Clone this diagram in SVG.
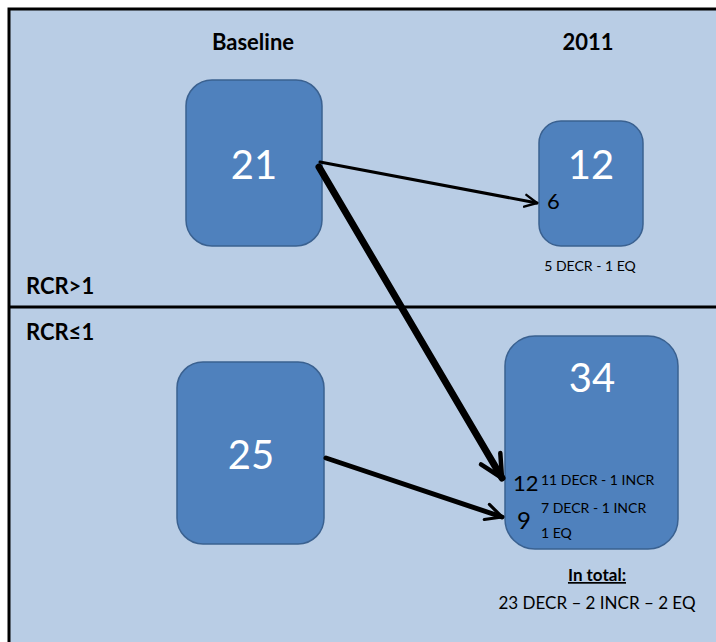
<svg xmlns="http://www.w3.org/2000/svg" width="716" height="642" viewBox="0 0 716 642">
<defs>
<style>
.box{fill:#4F81BD;stroke:#3A6190;stroke-width:1.5}
.big{font-family:Lato,"Open Sans","Liberation Sans",sans-serif;fill:#fff;font-size:40px;text-anchor:middle}
.hd{font-family:Lato,"Open Sans","Liberation Sans",sans-serif;font-weight:bold;font-size:22px;fill:#000}
.sm{font-family:Lato,"Open Sans","Liberation Sans",sans-serif;font-size:14px;fill:#000}
.tot{font-family:Lato,"Open Sans","Liberation Sans",sans-serif;font-size:17px;fill:#000;text-anchor:middle}
.num{font-family:Lato,"Open Sans","Liberation Sans",sans-serif;font-size:22px;fill:#000}
.conn{stroke:#000;fill:none;stroke-linecap:round}
</style>
<marker id="ah" viewBox="0 0 10 10" refX="9" refY="5" markerWidth="5" markerHeight="5" orient="auto" markerUnits="strokeWidth">
<polyline points="1,1 9,5 1,9" fill="none" stroke="#000" stroke-width="1.6" stroke-linecap="round" stroke-linejoin="round"/>
</marker>
<marker id="ah2" viewBox="0 0 10 10" refX="9" refY="5" markerWidth="4" markerHeight="4" orient="auto" markerUnits="strokeWidth">
<polyline points="1,1 9,5 1,9" fill="none" stroke="#000" stroke-width="1.6" stroke-linecap="round" stroke-linejoin="round"/>
</marker>
</defs>
<rect x="0" y="0" width="716" height="642" fill="#fff"/>
<rect x="9" y="9" width="720" height="650" fill="#B9CDE5" stroke="#000" stroke-width="3"/>
<line x1="9" y1="307" x2="716" y2="307" stroke="#000" stroke-width="3"/>
<text class="hd" x="253" y="50" text-anchor="middle">Baseline</text>
<text class="hd" x="588" y="50" text-anchor="middle">2011</text>
<text class="hd" x="26" y="294">RCR&gt;1</text>
<text class="hd" x="26" y="340">RCR≤1</text>
<g id="n21">
<rect class="box" x="186" y="80" width="136" height="166" rx="26"/>
<text class="big" x="254" y="179">21</text>
</g>
<g id="n12">
<rect class="box" x="539" y="121" width="104" height="125" rx="22"/>
<text class="big" x="591" y="179">12</text>
<text class="num" x="547" y="209">6</text>
<text class="sm" x="590" y="271" text-anchor="middle">5 DECR - 1 EQ</text>
</g>
<g id="n25">
<rect class="box" x="177" y="362" width="147" height="182" rx="26"/>
<text class="big" x="251" y="469">25</text>
</g>
<g id="n34">
<rect class="box" x="505" y="336" width="173" height="213" rx="30"/>
<text class="big" x="592" y="392">34</text>
<text class="num" x="513" y="491">12</text>
<text class="sm" x="541" y="485">11 DECR - 1 INCR</text>
<text class="num" x="517" y="529" style="font-size:24px">9</text>
<text class="sm" x="541" y="513">7 DECR  - 1 INCR</text>
<text class="sm" x="541" y="538">1 EQ</text>
<text class="tot" x="597" y="581" font-weight="bold" text-decoration="underline">In total:</text>
<text class="tot" x="597" y="609">23 DECR – 2 INCR – 2 EQ</text>
</g>
<g id="connectors">
<line class="conn" x1="320" y1="162" x2="537" y2="203" stroke-width="3" marker-end="url(#ah)"/>
<line class="conn" x1="319" y1="167" x2="502" y2="478" stroke-width="7" marker-end="url(#ah2)"/>
<line class="conn" x1="326" y1="458" x2="502" y2="517" stroke-width="5" marker-end="url(#ah2)"/>
</g>
</svg>
